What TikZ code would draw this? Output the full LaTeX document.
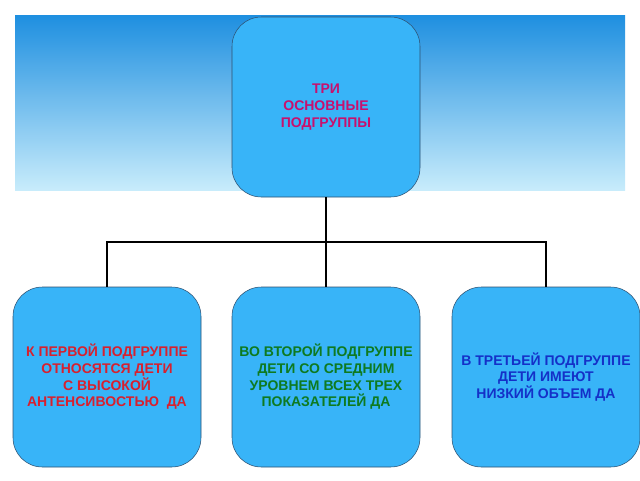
\documentclass[tikz,border=0pt]{standalone}
\usepackage{fontspec}
\setmainfont{Liberation Sans}
\usetikzlibrary{positioning}
\definecolor{boxblue}{HTML}{38B4F8}
\definecolor{boxline}{HTML}{2F4F6F}
\definecolor{skytop}{HTML}{1E8FE0}
\definecolor{skybot}{HTML}{C8ECFB}
\definecolor{txtred}{HTML}{D8202E}
\definecolor{txtmag}{HTML}{C8106E}
\definecolor{txtgreen}{HTML}{0E7A20}
\definecolor{txtblue}{HTML}{1430C8}
\tikzstyle{group} = [draw=boxline, fill=boxblue, rounded corners=22pt, minimum width=141pt, minimum height=135pt, align=center, font=\bfseries\fontsize{10.5}{12.5}\selectfont, inner sep=0pt]

\begin{document}
\begin{tikzpicture}[x=0.75pt, y=-0.75pt]

\useasboundingbox (0,0) rectangle (640,480);
\shade [top color=skytop, bottom color=skybot] (15,15) rectangle (625,190);

\node [group, text=txtmag] (main) at (326,107) {ТРИ\\ОСНОВНЫЕ\\ПОДГРУППЫ};
\node [group, text=txtred] (first) at (107,377) {К ПЕРВОЙ ПОДГРУППЕ\\ОТНОСЯТСЯ ДЕТИ\\С ВЫСОКОЙ\\АНТЕНСИВОСТЬЮ\ \ ДА};
\node [group, text=txtgreen] (second) at (326,377) {ВО ВТОРОЙ ПОДГРУППЕ\\ДЕТИ СО СРЕДНИМ\\УРОВНЕМ ВСЕХ ТРЕХ\\ПОКАЗАТЕЛЕЙ ДА};
\node [group, text=txtblue] (third) at (546,377) {В ТРЕТЬЕЙ ПОДГРУППЕ\\ДЕТИ ИМЕЮТ\\НИЗКИЙ ОБЪЕМ ДА};

\coordinate (bar) at (326,242);
\draw [thick] (main) -- (bar);
\draw [thick] (first) |- (bar) -| (third);
\draw [thick] (bar) -- (second);

\end{tikzpicture}
\end{document}
